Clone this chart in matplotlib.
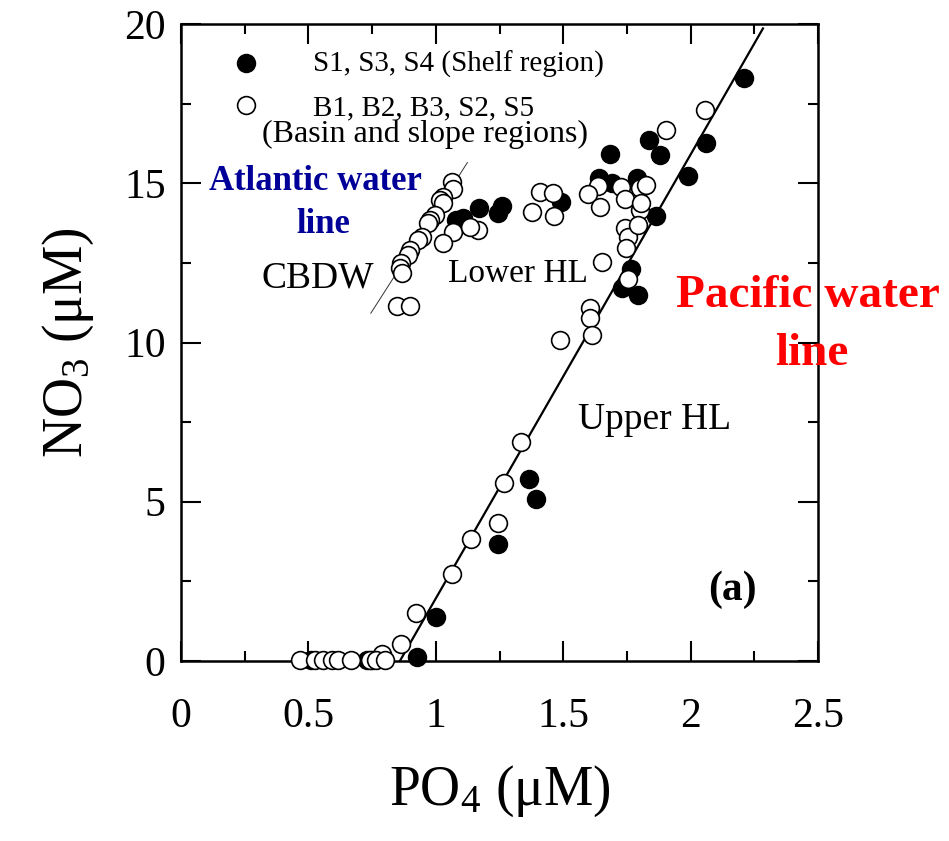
import matplotlib
matplotlib.use("Agg")
import matplotlib.pyplot as plt
from matplotlib.ticker import MultipleLocator

plt.rcParams['font.family'] = ['Liberation Serif', 'DejaVu Serif']
plt.rcParams['mathtext.fontset'] = 'custom'
plt.rcParams['mathtext.rm'] = 'Liberation Serif'
plt.rcParams['mathtext.it'] = 'Liberation Serif:italic'
plt.rcParams['mathtext.bf'] = 'Liberation Serif:bold'

# Shelf region (S1, S3, S4) - filled circles
shelf_po4 = [2.21, 2.06, 1.835, 1.88, 1.685, 1.99, 1.865, 1.64, 1.69, 1.79,
             1.767, 1.73, 1.795, 1.49, 1.26, 1.245, 1.17, 1.08, 1.105,
             1.366, 1.392, 1.244, 1.0, 0.927, 0.51, 0.73, 0.75]
shelf_no3 = [18.3, 16.25, 16.36, 15.9, 15.92, 15.23, 13.97, 15.16, 15.0, 15.16,
             12.3, 11.7, 11.5, 14.42, 14.3, 14.08, 14.23, 13.85, 13.9,
             5.71, 5.09, 3.66, 1.39, 0.12, 0.02, 0.02, 0.02]

# Basin and slope regions (B1, B2, B3, S2, S5) - open circles
basin_po4 = [2.055, 1.905, 1.637, 1.597, 1.643, 1.728, 1.741, 1.80, 1.826, 1.80,
             1.806, 1.741, 1.754, 1.748, 1.653, 1.754, 1.794, 1.41, 1.46, 1.379,
             1.463, 1.605, 1.607, 1.614, 1.486, 1.336, 1.267, 1.244, 1.14, 1.062,
             0.924, 0.863, 0.787,
             0.467, 0.525, 0.557, 0.591, 0.616, 0.669, 0.741, 0.767, 0.80,
             1.062, 1.068, 1.029, 1.016, 1.029, 0.996, 0.976, 0.97, 1.068, 1.166,
             1.133, 1.029, 0.944, 0.931, 0.898, 0.891, 0.865, 0.859, 0.868, 0.846,
             0.898]
basin_no3 = [17.3, 16.67, 14.91, 14.65, 14.26, 14.89, 14.5, 14.84, 14.95, 14.16,
             14.37, 13.6, 13.3, 12.96, 12.54, 12.0, 13.69, 14.71, 14.69, 14.11,
             13.98, 11.07, 10.77, 10.24, 10.08, 6.89, 5.6, 4.33, 3.84, 2.73,
             1.5, 0.53, 0.22,
             0.03, 0.03, 0.03, 0.03, 0.03, 0.03, 0.03, 0.03, 0.03,
             15.05, 14.82, 14.58, 14.47, 14.37, 14.0, 13.84, 13.74, 13.48, 13.53,
             13.64, 13.13, 13.32, 13.22, 12.9, 12.75, 12.5, 12.35, 12.18, 11.15,
             11.15]

# Reference lines (end points)
pacific_po4 = [0.859, 2.284]
pacific_no3 = [0.0, 19.86]
atlantic_po4 = [0.745, 1.124]
atlantic_no3 = [10.92, 15.65]

fig = plt.figure(figsize=(9.49, 8.41), dpi=100)
ax = fig.add_axes([181/949, (841-661)/841, 637/949, 637/841])

ax.plot(pacific_po4, pacific_no3, color='black', lw=1.6, zorder=2)
ax.plot(atlantic_po4, atlantic_no3, color='#333333', lw=0.7, zorder=2)

ms = 12.8
ax.plot(shelf_po4, shelf_no3, 'o', ms=ms, mfc='black', mec='black', mew=1.2,
        ls='none', zorder=3, clip_on=False)
ax.plot(basin_po4, basin_no3, 'o', ms=ms, mfc='white', mec='black', mew=1.2,
        ls='none', zorder=4, clip_on=False)

ax.set_xlim(0, 2.5)
ax.set_ylim(0, 20)
ax.xaxis.set_major_locator(MultipleLocator(0.5))
ax.xaxis.set_minor_locator(MultipleLocator(0.25))
ax.yaxis.set_major_locator(MultipleLocator(5))
ax.yaxis.set_minor_locator(MultipleLocator(2.5))
ax.set_xticks([0, 0.5, 1, 1.5, 2, 2.5])
ax.set_xticklabels(['0', '0.5', '1', '1.5', '2', '2.5'])
ax.set_yticks([0, 5, 10, 15, 20])
ax.set_yticklabels(['0', '5', '10', '15', '20'])

ax.tick_params(which='both', direction='in', top=True, right=True, width=1.5,
               labelsize=30, color='black')
ax.tick_params(which='major', length=14.5)
ax.tick_params(which='minor', length=7.5)
ax.tick_params(axis='x', which='major', pad=26)
ax.tick_params(axis='y', which='major', pad=11)
for s in ax.spines.values():
    s.set_linewidth(1.8)

ax.set_xlabel('PO$_4$ (μM)', fontsize=40, labelpad=20)
ax.set_ylabel('NO$_3$ (μM)', fontsize=40, labelpad=20)

T = ax.transAxes
# legend
ax.plot([0.102], [0.9392], 'o', ms=ms, mfc='black', mec='black', mew=1.2,
        transform=T, clip_on=False)
ax.plot([0.102], [0.8727], 'o', ms=ms, mfc='white', mec='black', mew=1.2,
        transform=T, clip_on=False)
ax.text(0.2072, 0.9247, 'S1, S3, S4 (Shelf region)', transform=T, fontsize=21,
        va='baseline', ha='left')
ax.text(0.2072, 0.857, 'B1, B2, B3, S2, S5', transform=T, fontsize=21,
        va='baseline', ha='left')
ax.text(0.127, 0.8148, '(Basin and slope regions)', transform=T, fontsize=23,
        va='baseline', ha='left')

navy = '#000099'
ax.text(0.211, 0.739, 'Atlantic water', transform=T, fontsize=25,
        fontweight='bold', color=navy, va='baseline', ha='center')
ax.text(0.2237, 0.672, 'line', transform=T, fontsize=25,
        fontweight='bold', color=navy, va='baseline', ha='center')

ax.text(0.127, 0.587, 'CBDW', transform=T, fontsize=27, va='baseline', ha='left')
ax.text(0.419, 0.595, 'Lower HL', transform=T, fontsize=24, va='baseline', ha='left')
ax.text(0.623, 0.364, 'Upper HL', transform=T, fontsize=27, va='baseline', ha='left')

ax.text(0.984, 0.5557, 'Pacific water', transform=T, fontsize=34,
        fontweight='bold', color='#FF0000', va='baseline', ha='center', clip_on=False)
ax.text(0.9906, 0.4647, 'line', transform=T, fontsize=34,
        fontweight='bold', color='#FF0000', va='baseline', ha='center', clip_on=False)

ax.text(0.827, 0.0958, '(a)', transform=T, fontsize=30, fontweight='bold',
        va='baseline', ha='left')

fig.savefig('out.png', dpi=100)
